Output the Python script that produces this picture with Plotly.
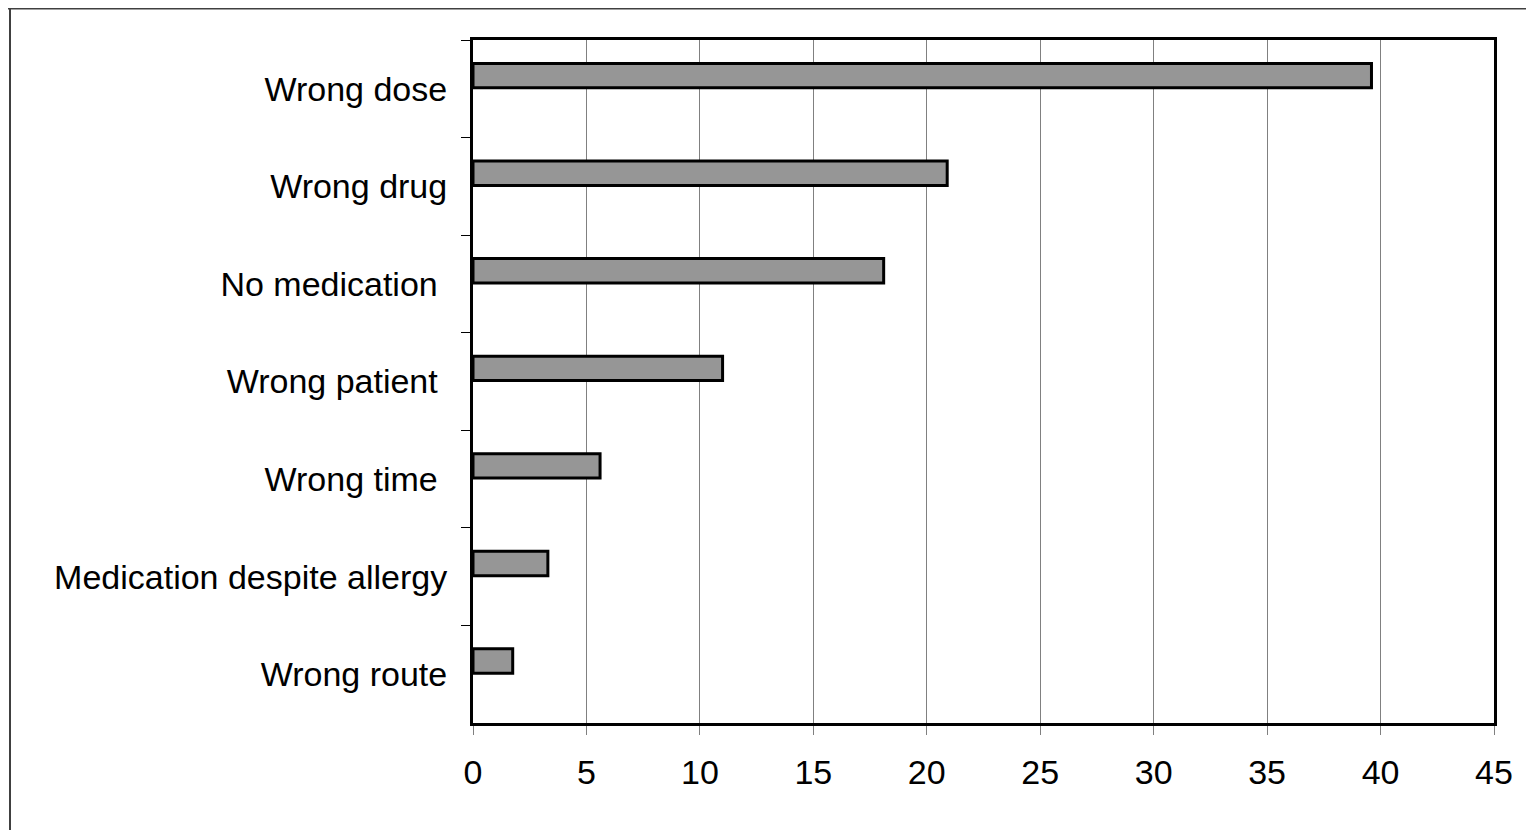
import plotly.graph_objects as go

categories = ["Wrong dose", "Wrong drug", "No medication ", "Wrong patient ",
              "Wrong time ", "Medication despite allergy", "Wrong route"]
values = [39.6, 20.9, 18.1, 11.0, 5.6, 3.3, 1.75]
x_ticks = [0, 5, 10, 15, 20, 25, 30, 35, 40, 45]

W, H = 1518, 822
ml, mr, mt, mb = 465, 32, 32, 107
pw, ph = W - ml - mr, H - mt - mb

fig = go.Figure(go.Bar(
    x=values, y=categories, orientation="h",
    marker=dict(color="#969696", line=dict(color="black", width=3)),
    width=0.25, offset=-0.26,
))

fig.update_layout(
    width=W, height=H,
    margin=dict(l=ml, r=mr, t=mt, b=mb, pad=0),
    paper_bgcolor="white", plot_bgcolor="white",
    font=dict(family="Liberation Sans, Arial, sans-serif", size=34, color="black"),
    showlegend=False,
)
fig.update_xaxes(
    range=[0, 45], tickvals=x_ticks, ticktext=[str(v) for v in x_ticks],
    showgrid=True, gridcolor="#808080", gridwidth=1,
    showline=True, linecolor="black", linewidth=3, mirror=True,
    ticks="outside", ticklen=9, tickcolor="#808080", tickwidth=1,
    zeroline=False, ticklabelstandoff=8,
)
fig.update_yaxes(
    categoryorder="array", categoryarray=categories, autorange="reversed",
    showgrid=False,
    showline=True, linecolor="black", linewidth=3, mirror=True,
    ticks="outside", ticklen=9, tickcolor="black", tickwidth=1,
    tickson="boundaries", ticklabelstandoff=16,
)

# outer frame (top and left edges visible)
fig.add_shape(type="line", xref="paper", yref="paper",
              x0=(0 - ml) / pw, x1=(W + 20 - ml) / pw,
              y0=(H - mb) / ph, y1=(H - mb) / ph,
              line=dict(color="#404040", width=3), layer="below")
fig.add_shape(type="line", xref="paper", yref="paper",
              x0=(2 - ml) / pw, x1=(2 - ml) / pw,
              y0=(H - mb) / ph, y1=(H - mb - H - 20) / ph,
              line=dict(color="#404040", width=2), layer="below")

fig.write_html("out.html")
